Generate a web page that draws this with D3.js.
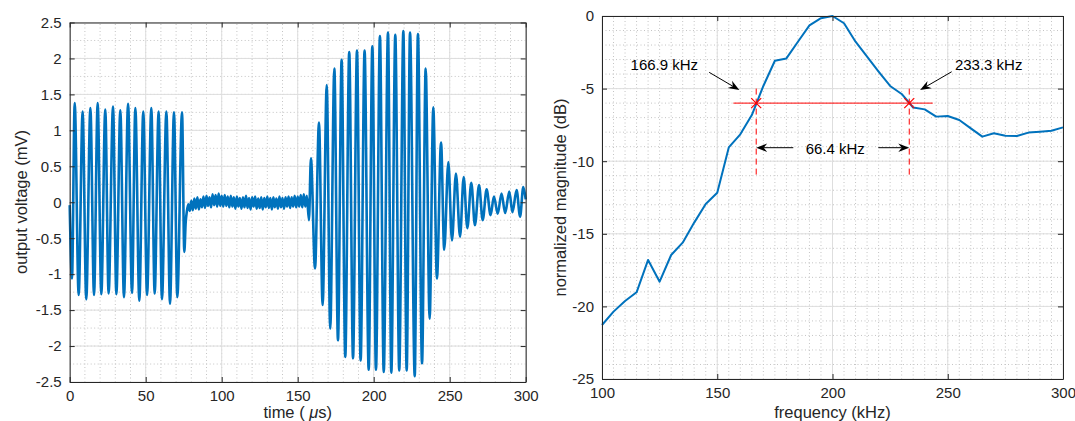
<!DOCTYPE html>
<html>
<head>
<meta charset="utf-8">
<script src="https://cdn.jsdelivr.net/npm/d3@7"></script>
<style>
  body { margin: 0; background: #fff; }
  svg { display: block; font-family: "Liberation Sans", Arial, Helvetica, sans-serif; }
</style>
</head>
<body>
<svg></svg>
<script>
// ---- left plot: received waveform (peaks / troughs) ----
const burst1Time = [0, 1.5, 3.3, 5.9, 8.5, 10.9, 13.6, 16.0, 18.4, 20.8, 23.4, 25.6, 28.5, 30.7, 33.3, 35.7,
  38.4, 41.0, 43.2, 45.8, 48.4, 50.9, 53.7, 55.9, 58.5, 60.7, 63.6, 66.0, 68.6, 70.8, 73.9, 75.4, 76.3];
const burst1Volt = [-0.04, -1.06, 1.38, -1.29, 1.26, -1.35, 1.31, -1.29, 1.38, -1.28, 1.29, -1.27, 1.33, -1.28, 1.28, -1.32,
  1.37, -1.26, 1.31, -1.37, 1.26, -1.29, 1.31, -1.27, 1.26, -1.35, 1.26, -1.41, 1.25, -1.32, 1.25, -0.69, -0.28];

const noiseTime = [77, 78, 79, 80, 81, 82, 83, 84, 85, 86, 87, 88, 89, 90, 91, 92, 93, 94, 95, 96, 97, 98, 99, 100,
  101, 102, 103, 104, 105, 106, 107, 108, 109, 110, 111, 112, 113, 114, 115, 116, 117, 118, 119, 120, 121, 122, 123, 124,
  125, 126, 127, 128, 129, 130, 131, 132, 133, 134, 135, 136, 137, 138, 139, 140, 141, 142, 143, 144, 145, 146, 147, 148,
  149, 150, 151, 152, 153, 154, 155, 156];
const noiseVolt = [-0.14, -0.03, -0.12, 0.02, -0.11, 0.05, -0.09, 0.07, -0.10, 0.04, -0.07, 0.08, -0.08, 0.09, -0.05, 0.07,
  -0.07, 0.11, -0.04, 0.10, -0.06, 0.12, -0.05, 0.09, -0.06, 0.10, -0.05, 0.08, -0.07, 0.09, -0.06, 0.07, -0.09, 0.08,
  -0.06, 0.06, -0.09, 0.07, -0.07, 0.09, -0.08, 0.06, -0.10, 0.07, -0.06, 0.08, -0.09, 0.05, -0.08, 0.07, -0.10, 0.06,
  -0.07, 0.08, -0.08, 0.06, -0.10, 0.07, -0.07, 0.05, -0.09, 0.08, -0.07, 0.06, -0.09, 0.07, -0.06, 0.08, -0.08, 0.07,
  -0.06, 0.09, -0.07, 0.08, -0.06, 0.10, -0.07, 0.11, -0.06, 0.09];

const burst2Time = [157.4, 158.7, 161.4, 164.0, 166.4, 169.1, 171.4, 174.1, 176.5, 178.9, 181.3, 183.9, 186.4, 189.0,
  191.4, 194.0, 196.7, 199.1, 201.5, 204.1, 206.6, 209.4, 211.6, 214.2, 216.8, 219.5, 221.7, 223.9, 227.0, 229.1,
  231.8, 234.2, 236.8, 239.2, 241.6, 244.3, 246.4, 249.1, 251.5, 254.1, 256.8, 259.2, 261.6, 264.2, 266.6, 269.3,
  271.7, 274.3, 276.9, 279.1, 281.6, 284.1, 286.5, 289.2, 291.3, 294.0, 296.3, 298.4, 300];
const burst2Volt = [-0.25, 0.61, -0.92, 1.11, -1.43, 1.63, -1.76, 1.86, -1.92, 1.98, -2.15, 2.09, -2.17, 2.11,
  -2.20, 2.11, -2.33, 2.17, -2.33, 2.31, -2.36, 2.36, -2.37, 2.33, -2.34, 2.38, -2.34, 2.36, -2.42, 2.34,
  -2.24, 1.86, -1.62, 1.32, -1.06, 0.83, -0.66, 0.56, -0.53, 0.40, -0.48, 0.35, -0.36, 0.27, -0.32, 0.24,
  -0.25, 0.18, -0.18, 0.08, -0.16, 0.12, -0.15, 0.15, -0.14, 0.17, -0.20, 0.21, 0.04];

const timeTicks = [0, 50, 100, 150, 200, 250, 300];
const voltTicks = [-2.5, -2, -1.5, -1, -0.5, 0, 0.5, 1, 1.5, 2, 2.5];

// ---- right plot: normalized spectrum ----
const freqKHz = [100, 105, 110, 115, 120, 125, 130, 135, 140, 145, 150, 155, 160, 165, 170, 175, 180, 185, 190, 195,
  200, 205, 210, 215, 220, 225, 230, 235, 240, 245, 250, 255, 260, 265, 270, 275, 280, 285, 290, 295, 300];
const magDB = [-21.28, -20.36, -19.63, -19.03, -16.80, -18.30, -16.46, -15.61, -14.23, -12.95, -12.17, -9.05, -8.15,
  -6.82, -4.82, -3.08, -2.92, -1.77, -0.65, -0.15, 0, -0.50, -1.77, -2.80, -3.83, -4.82, -5.37, -6.30, -6.43, -6.93,
  -6.89, -7.16, -7.74, -8.31, -8.08, -8.24, -8.26, -8.03, -7.97, -7.90, -7.67];

const freqTicks = [100, 150, 200, 250, 300];
const dbTicks = [-25, -20, -15, -10, -5, 0];

// -6 dB bandwidth annotation
const edgeFreqs = [166.9, 233.3];
const edgeLabels = ["166.9 kHz", "233.3 kHz"];
const bandLevel = -6;
const bandLabel = "66.4 kHz";

let width = 1075;
let height = 421;
let lineColor = "#0072bd";
let axisColor = "#262626";

let svg = d3.select("svg").attr("width", width).attr("height", height);

// draws minor + major grid for one axes
const drawFrame = (g, x, y, xTicks, yTicks, xMinor, yMinor) => {
  let [x0, x1] = x.range();
  let [y0, y1] = y.range();

  g.append("g").selectAll("line").data(xMinor).join("line")
    .attr("x1", d => x(d)).attr("x2", d => x(d)).attr("y1", y0).attr("y2", y1)
    .attr("stroke", "#c4c4c4").attr("stroke-dasharray", "1,2.5");
  g.append("g").selectAll("line").data(yMinor).join("line")
    .attr("y1", d => y(d)).attr("y2", d => y(d)).attr("x1", x0).attr("x2", x1)
    .attr("stroke", "#c4c4c4").attr("stroke-dasharray", "1,2.5");
  g.append("g").selectAll("line").data(xTicks).join("line")
    .attr("x1", d => x(d)).attr("x2", d => x(d)).attr("y1", y0).attr("y2", y1)
    .attr("stroke", "#dedede");
  g.append("g").selectAll("line").data(yTicks).join("line")
    .attr("y1", d => y(d)).attr("y2", d => y(d)).attr("x1", x0).attr("x2", x1)
    .attr("stroke", "#dedede");
}

// box with inward ticks on all four sides
const drawAxes = (g, x, y, xTicks, yTicks) => {
  let [x0, x1] = x.range();
  let [y0, y1] = y.range();
  let fmt = d => String(d);

  let axes = [
    [d3.axisBottom(x).tickValues(xTicks).tickPadding(8).tickFormat(fmt), `translate(0,${y0})`],
    [d3.axisTop(x).tickValues(xTicks).tickFormat(""), `translate(0,${y1})`],
    [d3.axisLeft(y).tickValues(yTicks).tickPadding(8).tickFormat(fmt), `translate(${x0},0)`],
    [d3.axisRight(y).tickValues(yTicks).tickFormat(""), `translate(${x1},0)`]
  ];
  axes.forEach(([ax, tr]) => {
    let a = g.append("g")
      .attr("transform", tr)
      .call(ax.tickSizeInner(-5).tickSizeOuter(0));
    a.selectAll("path").attr("stroke", axisColor);
    a.selectAll("line").attr("stroke", axisColor);
    a.selectAll("text").attr("fill", axisColor).style("font-size", "15px")
      .style("font-family", "'Liberation Sans', Arial, sans-serif");
  });
}

// ---------- left: time signal ----------
let xTime = d3.scaleLinear().domain([0, 300]).range([69.7, 525.7]);
let yVolt = d3.scaleLinear().domain([-2.5, 2.5]).range([382, 22.5]);
let left = svg.append("g");

drawFrame(left, xTime, yVolt, timeTicks, voltTicks, d3.range(10, 300, 10), d3.range(-2.25, 2.5, 0.25));

let waveTime = burst1Time.concat(noiseTime, burst2Time);
let waveVolt = burst1Volt.concat(noiseVolt, burst2Volt);

left.append("path")
  .datum(waveTime.map((t, i) => [t, waveVolt[i]]))
  .attr("fill", "none")
  .attr("stroke", lineColor)
  .attr("stroke-width", 2.6)
  .attr("stroke-linejoin", "round")
  .attr("d", d3.line().x(d => xTime(d[0])).y(d => yVolt(d[1])).curve(d3.curveMonotoneX));

drawAxes(left, xTime, yVolt, timeTicks, voltTicks);

left.append("text")
  .attr("x", 297.7).attr("y", 418)
  .attr("text-anchor", "middle").attr("fill", axisColor)
  .style("font-size", "16.5px")
  .call(t => {
    t.append("tspan").text("time (\u00a0");
    t.append("tspan").style("font-style", "italic").text("\u03bc");
    t.append("tspan").text("s)");
  });

left.append("text")
  .attr("transform", "translate(27,202) rotate(-90)")
  .attr("text-anchor", "middle").attr("fill", axisColor)
  .style("font-size", "16.5px")
  .text("output voltage (mV)");

// ---------- right: spectrum ----------
let xFreq = d3.scaleLinear().domain([100, 300]).range([602, 1063]);
let yDB = d3.scaleLinear().domain([-25, 0]).range([379, 16]);
let right = svg.append("g");

drawFrame(right, xFreq, yDB, freqTicks, dbTicks, d3.range(105, 300, 5), d3.range(-24, 0, 1));

right.append("path")
  .datum(freqKHz.map((f, i) => [f, magDB[i]]))
  .attr("fill", "none")
  .attr("stroke", lineColor)
  .attr("stroke-width", 2)
  .attr("stroke-linejoin", "round")
  .attr("d", d3.line().x(d => xFreq(d[0])).y(d => yDB(d[1])));

// -6 dB line and edge markers
right.append("line")
  .attr("x1", xFreq(157)).attr("x2", xFreq(243.5))
  .attr("y1", yDB(bandLevel)).attr("y2", yDB(bandLevel))
  .attr("stroke", "#ff0000").attr("stroke-width", 1);

right.selectAll(".edge").data(edgeFreqs).join("line")
  .attr("class", "edge")
  .attr("x1", d => xFreq(d)).attr("x2", d => xFreq(d))
  .attr("y1", yDB(-5)).attr("y2", yDB(-11))
  .attr("stroke", "#ff0000").attr("stroke-width", 1).attr("stroke-dasharray", "6,4");

right.selectAll(".mark").data(edgeFreqs).join("path")
  .attr("class", "mark")
  .attr("d", d => {
    let cx = xFreq(d), cy = yDB(bandLevel), s = 5;
    return `M${cx - s},${cy - s}L${cx + s},${cy + s}M${cx - s},${cy + s}L${cx + s},${cy - s}`;
  })
  .attr("stroke", "#ff0000").attr("stroke-width", 1.2);

// arrows (in data coordinates: from -> tip)
const arrows = [
  [[146.5, -3.88], [159.6, -5.1]],
  [[251.7, -3.84], [238.0, -5.1]],
  [[183.0, -9.07], [edgeFreqs[0], -9.07]],
  [[219.9, -9.07], [edgeFreqs[1], -9.07]]
];

const arrowPath = (a, b) => {
  let x1 = xFreq(a[0]), y1 = yDB(a[1]), x2 = xFreq(b[0]), y2 = yDB(b[1]);
  let ang = Math.atan2(y2 - y1, x2 - x1);
  let len = 11, half = 4.2, notch = 7.5;
  let ux = Math.cos(ang), uy = Math.sin(ang);
  let bx = x2 - ux * len, by = y2 - uy * len;
  let nx = x2 - ux * notch, ny = y2 - uy * notch;
  return {
    shaft: `M${x1},${y1}L${nx},${ny}`,
    head: `M${x2},${y2}L${bx - uy * half},${by + ux * half}L${nx},${ny}L${bx + uy * half},${by - ux * half}Z`
  };
}

arrows.forEach(([a, b]) => {
  let p = arrowPath(a, b);
  right.append("path").attr("d", p.shaft).attr("stroke", "#000").attr("stroke-width", 1).attr("fill", "none");
  right.append("path").attr("d", p.head).attr("fill", "#000");
});

right.append("text")
  .attr("x", xFreq(112.4)).attr("y", yDB(-3.72))
  .style("font-size", "15px").attr("fill", "#000")
  .text(edgeLabels[0]);
right.append("text")
  .attr("x", xFreq(253.1)).attr("y", yDB(-3.72))
  .style("font-size", "15px").attr("fill", "#000")
  .text(edgeLabels[1]);
right.append("text")
  .attr("x", xFreq(201.2)).attr("y", yDB(-9.47))
  .attr("text-anchor", "middle")
  .style("font-size", "15px").attr("fill", "#000")
  .text(bandLabel);

drawAxes(right, xFreq, yDB, freqTicks, dbTicks);

right.append("text")
  .attr("x", 832.5).attr("y", 418)
  .attr("text-anchor", "middle").attr("fill", axisColor)
  .style("font-size", "16.5px")
  .text("frequency (kHz)");

right.append("text")
  .attr("transform", "translate(566,197.5) rotate(-90)")
  .attr("text-anchor", "middle").attr("fill", axisColor)
  .style("font-size", "16.5px")
  .text("normalized magnitude (dB)");
</script>
</body>
</html>
